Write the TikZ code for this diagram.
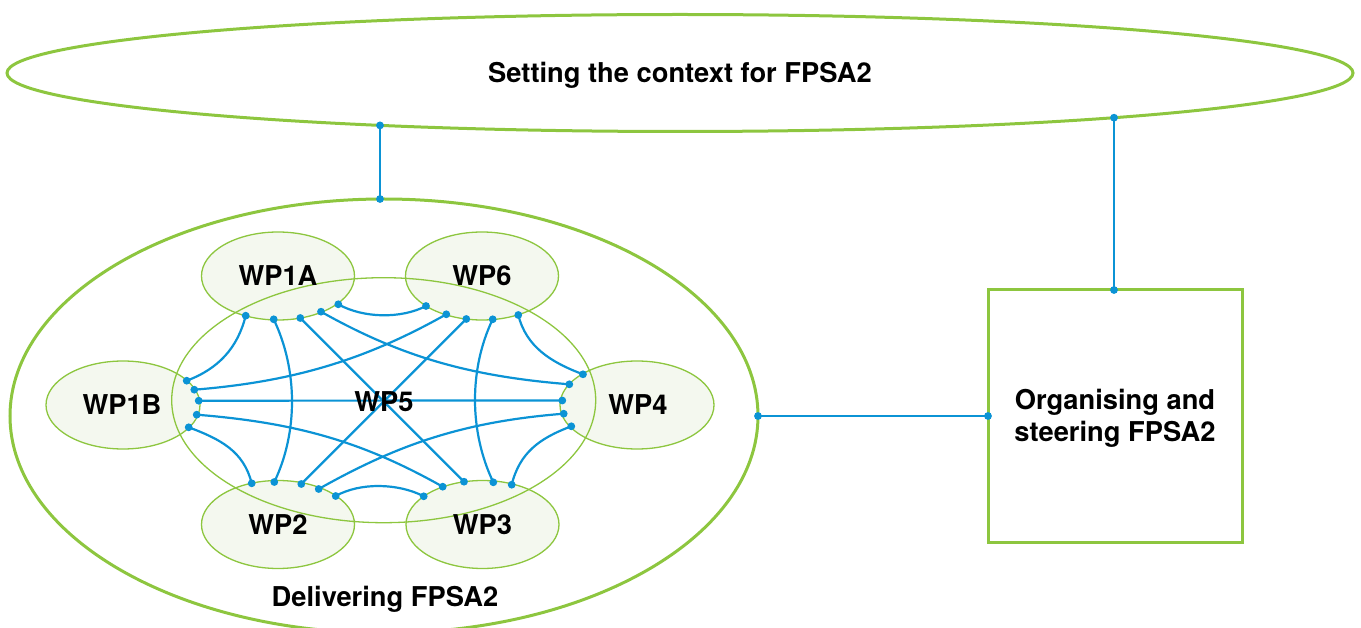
\documentclass[tikz,border=0pt]{standalone}
\usepackage{fontspec}
\setmainfont{TeX Gyre Heros}
\definecolor{leaf}{RGB}{141,198,63}
\definecolor{wire}{RGB}{11,147,213}
\definecolor{pale}{RGB}{244,248,239}
\tikzset{
  frame/.style={draw=leaf, line width=3pt},
  wpbox/.style={draw=leaf, fill=pale, line width=1.3pt},
  ring/.style={draw=leaf, line width=1.3pt},
  link/.style={draw=wire, line width=2.2pt},
  label/.style={font=\fontsize{27.3}{32}\selectfont\bfseries, inner sep=0pt, text=black},
}
\begin{document}
\begin{tikzpicture}[x=1pt, y=-1pt]
\useasboundingbox (0,0) rectangle (1361,628);

% outer frames
\draw[frame] (680,73) ellipse [x radius=673, y radius=58.5];
\draw[frame] (384,416) ellipse [x radius=374, y radius=217];
\draw[frame] (988,290) rectangle (1242,542);

% work-package ellipses
\draw[wpbox] (278,276) ellipse [x radius=76.5, y radius=44];
\draw[wpbox] (482,276) ellipse [x radius=76.5, y radius=44];
\draw[wpbox] (123,405) ellipse [x radius=77, y radius=44];
\draw[wpbox] (637,405) ellipse [x radius=77, y radius=44];
\draw[wpbox] (278,524.5) ellipse [x radius=76.5, y radius=44];
\draw[wpbox] (482.5,524.5) ellipse [x radius=76.5, y radius=44];
\draw[ring] (383.7,400.2) ellipse [x radius=212, y radius=122.5];

% connection points
\coordinate (t1) at (380,125.4);
\coordinate (t2) at (1114,117.7);
\coordinate (dtop) at (380,199);
\coordinate (dright) at (758,416);
\coordinate (otop) at (1114,290);
\coordinate (oleft) at (988,416);

\coordinate (a1) at (245.7,315.7);
\coordinate (a2) at (273.7,319.3);
\coordinate (a3) at (300.3,318);
\coordinate (a4) at (321,311.7);
\coordinate (a5) at (338.3,304.3);

\coordinate (f1) at (426,306);
\coordinate (f2) at (446.3,314.3);
\coordinate (f3) at (466.3,319);
\coordinate (f4) at (492.7,319.3);
\coordinate (f5) at (518.3,315);

\coordinate (b1) at (186.7,380.7);
\coordinate (b2) at (194.3,389.7);
\coordinate (b3) at (198.7,400.7);
\coordinate (b4) at (196.7,414.7);
\coordinate (b5) at (188.7,427.3);

\coordinate (e1) at (583,374.3);
\coordinate (e2) at (569.3,384.3);
\coordinate (e3) at (562.3,400.5);
\coordinate (e4) at (563.7,413.7);
\coordinate (e5) at (571.3,426.3);

\coordinate (c1) at (251.7,483.3);
\coordinate (c2) at (274.3,482);
\coordinate (c3) at (301.3,484);
\coordinate (c4) at (318.7,489);
\coordinate (c5) at (335.7,496);

\coordinate (d1) at (423.7,496.3);
\coordinate (d2) at (442.7,486.7);
\coordinate (d3) at (464,481.7);
\coordinate (d4) at (493.3,482.3);
\coordinate (d5) at (511.7,484.7);

% links between the three frames
\draw[link] (t1) -- (dtop);
\draw[link] (t2) -- (otop);
\draw[link] (dright) -- (oleft);

% links between work packages
\draw[link] (a1) .. controls +(-8,32) and +(32,-12) .. (b1);
\draw[link] (a2) .. controls +(24,50) and +(24,-50) .. (c2);
\draw[link] (a3) -- (d3);
\draw[link] (a4) .. controls +(80,45) and +(-100,-8) .. (e2);
\draw[link] (a5) .. controls +(25,14) and +(-25,13) .. (f1);
\draw[link] (f2) .. controls +(-80,45) and +(100,-8) .. (b2);
\draw[link] (f3) -- (c3);
\draw[link] (f4) .. controls +(-24,50) and +(-24,-50) .. (d4);
\draw[link] (f5) .. controls +(8,32) and +(-32,-12) .. (e1);
\draw[link] (b3) -- (e3);
\draw[link] (b4) .. controls +(100,8) and +(-80,-45) .. (d2);
\draw[link] (b5) .. controls +(32,12) and +(-8,-32) .. (c1);
\draw[link] (e4) .. controls +(-100,8) and +(80,-45) .. (c4);
\draw[link] (e5) .. controls +(-32,12) and +(8,-32) .. (d5);
\draw[link] (c5) .. controls +(25,-14) and +(-25,-13) .. (d1);

% dots at every connection point
\foreach \p in {t1,t2,dtop,dright,otop,oleft,
  a1,a2,a3,a4,a5,f1,f2,f3,f4,f5,b1,b2,b3,b4,b5,
  e1,e2,e3,e4,e5,c1,c2,c3,c4,c5,d1,d2,d3,d4,d5}
  \fill[wire] (\p) circle (3.9);

% labels
\node[label, anchor=base] (ctx) at (680,82.5) {Setting the context for FPSA2};
\node[label, anchor=base] (dlv) at (385,606.5) {Delivering FPSA2};
\node[label, align=center] (org) at (1115,418) {Organising and\\steering FPSA2};
\node[label] (wp1a) at (278,276) {WP1A};
\node[label] (wp6) at (482,276) {WP6};
\node[label] (wp1b) at (122,405) {WP1B};
\node[label] (wp4) at (638,405) {WP4};
\node[label] (wp2) at (278,524.5) {WP2};
\node[label] (wp3) at (482.5,524.5) {WP3};
\node[label] (wp5) at (384,401.5) {WP5};
\end{tikzpicture}
\end{document}
